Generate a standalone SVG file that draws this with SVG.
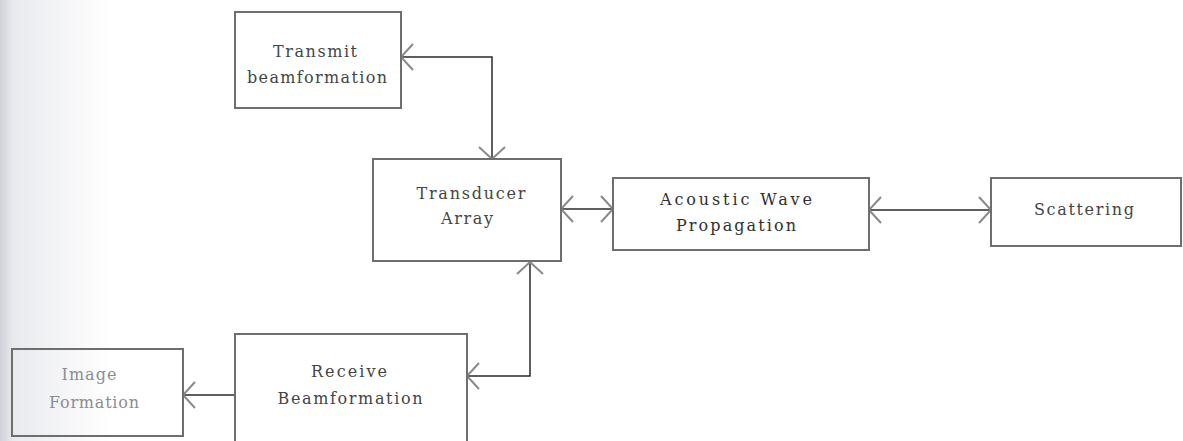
<svg xmlns="http://www.w3.org/2000/svg" width="1183" height="441" viewBox="0 0 1183 441">
  <style>
    .box { fill: none; stroke: #6e6e6e; stroke-width: 2; }
    .lbl { font-family: "DejaVu Serif", "Liberation Serif", serif; font-size: 16px; fill: #454545; text-anchor: middle; }
    .conn { fill: none; stroke: #2a2a2a; stroke-width: 1.5; }
  </style>
  <defs>
    <marker id="arr" viewBox="0 0 13 28" refX="13" refY="14" markerWidth="13" markerHeight="28" markerUnits="userSpaceOnUse" orient="auto-start-reverse">
      <path d="M1,1 L13,14 L1,27" fill="none" stroke="#8a8a8a" stroke-width="2"/>
    </marker>
    <linearGradient id="scan" x1="0" y1="0" x2="1" y2="0">
      <stop offset="0" stop-color="#cfd2d8"/>
      <stop offset="0.12" stop-color="#e9eaee"/>
      <stop offset="1" stop-color="#ffffff"/>
    </linearGradient>
  </defs>
  <rect x="0" y="0" width="1183" height="441" fill="#ffffff"/>
  <rect x="0" y="0" width="110" height="441" fill="url(#scan)"/>

  <g id="connectors">
    <path class="conn" d="M401,57 H492 V159" marker-start="url(#arr)" marker-end="url(#arr)"/>
    <path class="conn" d="M561,209 H613" marker-start="url(#arr)" marker-end="url(#arr)"/>
    <path class="conn" d="M869,210 H991" marker-start="url(#arr)" marker-end="url(#arr)"/>
    <path class="conn" d="M530,262 V376 H467" marker-start="url(#arr)" marker-end="url(#arr)"/>
    <path class="conn" d="M235,395 H183" marker-end="url(#arr)"/>
  </g>

  <g id="transmit">
    <rect class="box" x="235" y="12" width="166" height="96"/>
    <text class="lbl" x="315" y="57" textLength="84" lengthAdjust="spacing">Transmit</text>
    <text class="lbl" x="317" y="83" textLength="140" lengthAdjust="spacing">beamformation</text>
  </g>

  <g id="transducer">
    <rect class="box" x="373" y="159" width="188" height="102"/>
    <text class="lbl" x="471" y="199" textLength="109" lengthAdjust="spacing">Transducer</text>
    <text class="lbl" x="467" y="224" textLength="52" lengthAdjust="spacing">Array</text>
  </g>

  <g id="acoustic">
    <rect class="box" x="613" y="178" width="256" height="72"/>
    <text class="lbl" x="736" y="205" textLength="152" lengthAdjust="spacing" style="fill:#303030">Acoustic Wave</text>
    <text class="lbl" x="736" y="231" textLength="120" lengthAdjust="spacing" style="fill:#303030">Propagation</text>
  </g>

  <g id="scattering">
    <rect class="box" x="991" y="178" width="190" height="68"/>
    <text class="lbl" x="1084" y="215" textLength="100" lengthAdjust="spacing">Scattering</text>
  </g>

  <g id="receive">
    <rect class="box" x="235" y="334" width="232" height="120"/>
    <text class="lbl" x="349" y="377" textLength="76" lengthAdjust="spacing">Receive</text>
    <text class="lbl" x="350" y="404" textLength="145" lengthAdjust="spacing">Beamformation</text>
  </g>

  <g id="image">
    <rect class="box" x="12" y="349" width="171" height="87"/>
    <text class="lbl" x="89" y="380" textLength="55" lengthAdjust="spacing" style="fill:#8a8d94">Image</text>
    <text class="lbl" x="94" y="408" textLength="90" lengthAdjust="spacing" style="fill:#8a8d94">Formation</text>
  </g>
</svg>
